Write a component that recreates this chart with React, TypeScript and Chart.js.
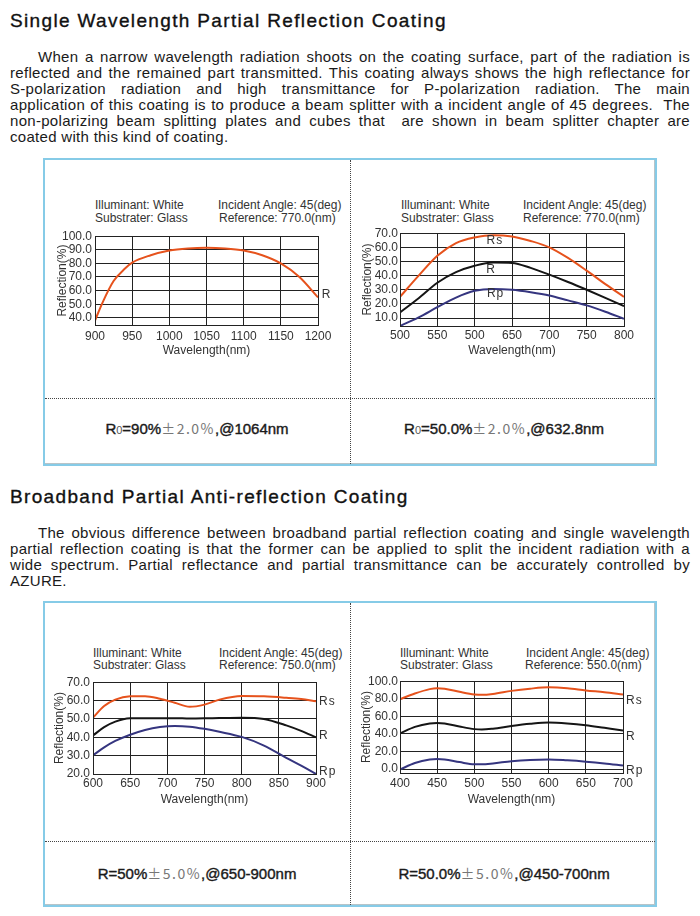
import React, { useEffect, useRef } from 'react';
import { Chart, registerables } from 'chart.js';
Chart.register(...registerables);

const FONT = '"Liberation Sans", Arial, sans-serif';
const CJK = '"Noto Sans CJK SC", "Liberation Sans", sans-serif';

// ---------- Chart 1: single wavelength 1064nm ----------
const wl1 = [900, 910, 925, 940, 950, 975, 1000, 1025, 1050, 1075, 1100, 1125, 1150, 1175, 1200];
const r1 = [38, 51, 67, 76, 80.5, 86, 89.5, 91, 91.5, 91, 89.5, 86, 80, 70, 55];
const xTicks1 = ['900', '950', '1000', '1050', '1100', '1150', '1200'];
const labels1 = [{ text: 'R', x: 1205, y: 56.7, align: 'left' }];

// ---------- Chart 2: single wavelength 632.8nm ----------
const wl2 = [500, 525, 550, 575, 600, 625, 650, 675, 700, 725, 750, 775, 800];
const rs2 = [25, 40, 54, 63, 67, 68.6, 67.7, 64.5, 60, 52.5, 43.5, 34, 25];
const r2 = [14, 24, 35, 42.5, 47, 49.3, 49, 45.5, 40.7, 35.5, 30, 24.3, 18.4];
const rp2 = [4.4, 10.5, 17.7, 24.5, 29.3, 30.6, 30, 28.3, 26, 22.5, 19, 14.5, 9.5];
const xTicks2 = ['500', '550', '500', '650', '700', '750', '800'];
const labels2 = [
  { text: 'Rs', x: 627, y: 64.4, align: 'center' },
  { text: 'R', x: 622, y: 44.2, align: 'center' },
  { text: 'Rp', x: 628, y: 27.3, align: 'center' },
];

// ---------- Chart 3: broadband 650-900nm ----------
const wl3 = [600, 615, 630, 650, 670, 690, 710, 730, 750, 770, 800, 830, 860, 880, 900];
const rs3 = [50.7, 57, 60.5, 62.3, 62.4, 61, 58.8, 56.6, 57.8, 60.5, 62.5, 62.3, 61.5, 60.8, 59.6];
const r3 = [41, 45.5, 48.5, 50.3, 50.4, 50.4, 50.4, 50.2, 50.3, 50.5, 50.7, 50, 46.5, 43.5, 40];
const rp3 = [30.2, 34.5, 38, 41.4, 44, 45.6, 46.2, 45.8, 44.6, 43, 40.2, 35.5, 28.8, 24.5, 20];
const xTicks3 = ['600', '650', '700', '750', '800', '850', '900'];
const labels3 = [
  { text: 'Rs', x: 904, y: 59.4, align: 'left' },
  { text: 'R', x: 904, y: 40.7, align: 'left' },
  { text: 'Rp', x: 904, y: 21.2, align: 'left' },
];

// ---------- Chart 4: broadband 450-700nm ----------
const wl4 = [400, 420, 440, 450, 460, 480, 500, 510, 525, 550, 575, 600, 625, 650, 675, 700];
const rs4 = [79.5, 86, 91, 92, 91.5, 88, 85, 84.5, 85.5, 89, 91.5, 93, 92, 89.5, 87.5, 85];
const r4 = [40.5, 48, 52, 52.5, 52, 48.5, 45.5, 45, 46, 49, 51.5, 53, 52, 50, 47, 44];
const rp4 = [-0.5, 7, 11, 11.5, 11, 8, 5.5, 5.5, 6.5, 9, 10.5, 11, 10, 8.5, 6.5, 4];
const xTicks4 = ['400', '450', '500', '550', '600', '650', '700'];
const labels4 = [
  { text: 'Rs', x: 704, y: 77.6, align: 'left' },
  { text: 'R', x: 704, y: 37.2, align: 'left' },
  { text: 'Rp', x: 704, y: -2, align: 'left' },
];

const ORANGE = '#e6521c';
const BLACK = '#151515';
const NAVY = '#35357f';

const para1 = [
  'When a narrow wavelength radiation shoots on the coating surface, part of the radiation is',
  'reflected and the remained part transmitted. This coating always shows the high reflectance for',
  'S-polarization radiation and high transmittance for P-polarization radiation. The main',
  'application of this coating is to produce a beam splitter with a incident angle of 45 degrees.\u00a0 The',
  'non-polarizing beam splitting plates and cubes that\u00a0 are shown in beam splitter chapter are',
  'coated with this kind of coating.',
];
const para2 = [
  'The obvious difference between broadband partial reflection coating and single wavelength',
  'partial reflection coating is that the former can be applied to split the incident radiation with a',
  'wide spectrum. Partial reflectance and partial transmittance can be accurately controlled by',
  'AZURE.',
];

const toXY = (xs: number[], ys: number[]) => xs.map((x, i) => ({ x, y: ys[i] }));

type Spec = {
  cx: number; cy: number; cw: number; ch: number;
  padTop: number; padRight: number; yW: number; xH: number;
  xPad: number; yPad: number;
  xMin: number; xMax: number; yMin: number; yMax: number; yStep: number;
  xTicks: string[];
  series: { data: { x: number; y: number }[]; color: string }[];
  labels: { text: string; x: number; y: number; align: string }[];
};

const specs: Spec[] = [
  {
    cx: 55, cy: 226, cw: 290, ch: 132, padTop: 8, padRight: 27, yW: 40, xH: 33, xPad: 4, yPad: 3,
    xMin: 900, xMax: 1200, yMin: 34.7, yMax: 100, yStep: 10, xTicks: xTicks1,
    series: [{ data: toXY(wl1, r1), color: ORANGE }], labels: labels1,
  },
  {
    cx: 360, cy: 224, cw: 290, ch: 134, padTop: 8, padRight: 26, yW: 40, xH: 32, xPad: 2, yPad: 2,
    xMin: 500, xMax: 800, yMin: 4.4, yMax: 70, yStep: 10, xTicks: xTicks2,
    series: [
      { data: toXY(wl2, rs2), color: ORANGE },
      { data: toXY(wl2, r2), color: BLACK },
      { data: toXY(wl2, rp2), color: NAVY },
    ], labels: labels2,
  },
  {
    cx: 52, cy: 672, cw: 293, ch: 135, padTop: 8, padRight: 29, yW: 41, xH: 33, xPad: 2, yPad: 3,
    xMin: 600, xMax: 900, yMin: 20, yMax: 70, yStep: 10, xTicks: xTicks3,
    series: [
      { data: toXY(wl3, rs3), color: ORANGE },
      { data: toXY(wl3, r3), color: BLACK },
      { data: toXY(wl3, rp3), color: NAVY },
    ], labels: labels3,
  },
  {
    cx: 359, cy: 672, cw: 291, ch: 135, padTop: 8, padRight: 27, yW: 41, xH: 34, xPad: 3, yPad: 2,
    xMin: 400, xMax: 700, yMin: -4.4, yMax: 100, yStep: 20, xTicks: xTicks4,
    series: [
      { data: toXY(wl4, rs4), color: ORANGE },
      { data: toXY(wl4, r4), color: BLACK },
      { data: toXY(wl4, rp4), color: NAVY },
    ], labels: labels4,
  },
];

const seriesLabelPlugin = {
  id: 'seriesLabels',
  afterDatasetsDraw(chart: any, _args: any, opts: any) {
    const { ctx, scales } = chart;
    ctx.save();
    ctx.font = `12px ${FONT}`;
    ctx.fillStyle = '#333';
    ctx.textBaseline = 'middle';
    try { (ctx as any).letterSpacing = '1px'; } catch (e) { /* ignore */ }
    for (const it of opts.items || []) {
      ctx.textAlign = it.align;
      ctx.fillText(it.text, scales.x.getPixelForValue(it.x), scales.y.getPixelForValue(it.y));
    }
    ctx.restore();
  },
};

const framePlugin = {
  id: 'frame',
  afterDraw(chart: any) {
    const { ctx, chartArea: a } = chart;
    ctx.save();
    ctx.strokeStyle = '#222';
    ctx.lineWidth = 1;
    ctx.strokeRect(Math.round(a.left) + 0.5, Math.round(a.top) + 0.5, Math.round(a.right - a.left), Math.round(a.bottom - a.top));
    ctx.restore();
  },
};

function LineChart({ spec }: { spec: Spec }) {
  const ref = useRef<HTMLCanvasElement>(null);
  useEffect(() => {
    const s = spec;
    const tickFont = { family: FONT, size: 12 };
    const chart = new Chart(ref.current as HTMLCanvasElement, {
      type: 'line',
      data: {
        datasets: s.series.map((d) => ({
          data: d.data,
          borderColor: d.color,
          backgroundColor: d.color,
          borderWidth: 2,
          pointRadius: 0,
          fill: false,
          cubicInterpolationMode: 'monotone' as const,
        })),
      },
      options: {
        responsive: false,
        maintainAspectRatio: false,
        animation: false,
        events: [],
        layout: { padding: { top: s.padTop, right: s.padRight, left: 0, bottom: 0 } },
        plugins: {
          legend: { display: false },
          tooltip: { enabled: false },
          seriesLabels: { items: s.labels },
        } as any,
        scales: {
          x: {
            type: 'linear',
            min: s.xMin,
            max: s.xMax,
            afterFit: (sc: any) => { sc.height = s.xH; },
            grid: { color: '#222', lineWidth: 1, drawTicks: false },
            border: { color: '#222', width: 1 },
            ticks: {
              stepSize: 50,
              padding: s.xPad,
              color: '#333',
              font: tickFont,
              maxRotation: 0,
              autoSkip: false,
              callback: (_v: any, i: number) => s.xTicks[i],
            },
            title: { display: true, text: 'Wavelength(nm)', color: '#333', font: tickFont, padding: 0 },
          },
          y: {
            type: 'linear',
            min: s.yMin,
            max: s.yMax,
            afterFit: (sc: any) => { sc.width = s.yW; },
            grid: { color: '#222', lineWidth: 1, drawTicks: false },
            border: { color: '#222', width: 1 },
            ticks: {
              stepSize: s.yStep,
              includeBounds: false,
              autoSkip: false,
              padding: s.yPad,
              color: '#333',
              font: tickFont,
              callback: (v: any) => Number(v).toFixed(1),
            },
            title: { display: true, text: 'Reflection(%)', color: '#333', font: tickFont, padding: 0 },
          },
        },
      } as any,
      plugins: [seriesLabelPlugin, framePlugin],
    });
    return () => chart.destroy();
  }, [spec]);
  return (
    <canvas
      ref={ref}
      width={spec.cw}
      height={spec.ch}
      style={{ position: 'absolute', left: spec.cx, top: spec.cy, width: spec.cw, height: spec.ch }}
    />
  );
}

const abs = (left: number, top: number, extra: React.CSSProperties = {}): React.CSSProperties => ({
  position: 'absolute', left, top, ...extra,
});

function Note({ x, y, text }: { x: number; y: number; text: string }) {
  return (
    <div style={abs(x, y - 7, { fontSize: 12, lineHeight: '14px', color: '#333', whiteSpace: 'nowrap' })}>{text}</div>
  );
}

function Title({ y, text }: { y: number; text: string }) {
  return (
    <div style={abs(10, y - 12, {
      fontSize: 19, lineHeight: '24px', letterSpacing: '1.35px', color: '#111', whiteSpace: 'nowrap',
      WebkitTextStroke: '0.35px #111',
    } as React.CSSProperties)}>
      {text}
    </div>
  );
}

function Para({ y0, lines }: { y0: number; lines: string[] }) {
  return (
    <>
      {lines.map((l, i) => {
        const last = i === lines.length - 1;
        return (
          <div
            key={i}
            style={abs(10, y0 + i * 16 - 8, {
              width: 680,
              height: 16,
              fontSize: 15,
              lineHeight: '16px',
              letterSpacing: '0.3px',
              color: '#1a1a1a',
              textAlign: last ? 'left' : 'justify',
              textAlignLast: last ? 'left' : 'justify',
              textIndent: i === 0 ? 28 : 0,
            } as React.CSSProperties)}
          >
            {l}
          </div>
        );
      })}
    </>
  );
}

function Box({ top, height, split }: { top: number; height: number; split: number }) {
  return (
    <>
      <div style={abs(43, top, { width: 610, height: height - 4, border: '2px solid #86cbe7', boxShadow: 'inset -1px -1px 0 #b8c4c8' })} />
      <div style={abs(350, top + 2, { width: 0, height: height - 4, borderLeft: '1px dotted #444' })} />
      <div style={abs(45, split, { width: 610, height: 0, borderTop: '1px dotted #444' })} />
    </>
  );
}

function Caption({ cx, y, head, sub, mid, tol, tail }: { cx: number; y: number; head: string; sub?: string; mid: string; tol: string; tail: string }) {
  return (
    <div style={abs(cx - 150, y - 10, {
      width: 300, textAlign: 'center', fontSize: 15, lineHeight: '20px', color: '#1a1a1a', whiteSpace: 'nowrap',
      WebkitTextStroke: '0.4px #1a1a1a',
    } as React.CSSProperties)}>
      {head}
      {sub ? <span style={{ fontSize: 11, color: '#555', WebkitTextStroke: '0px' } as React.CSSProperties}>{sub}</span> : null}
      {mid}
      <span style={{ fontFamily: CJK, fontSize: 14, color: '#777', letterSpacing: '1.5px', WebkitTextStroke: '0px' } as React.CSSProperties}>{tol}</span>
      {tail}
    </div>
  );
}

export default function App() {
  return (
    <div style={{ position: 'absolute', left: 0, top: 0, width: 700, height: 916, background: '#fff', fontFamily: FONT, overflow: 'hidden' }}>
      <Title y={21} text="Single Wavelength Partial Reflection Coating" />
      <Para y0={57} lines={para1} />

      <Box top={158} height={308} split={398} />
      <Note x={95} y={205} text="Illuminant: White" />
      <Note x={95} y={218} text="Substrater: Glass" />
      <Note x={218} y={205} text="Incident Angle: 45(deg)" />
      <Note x={219} y={218} text="Reference: 770.0(nm)" />
      <Note x={401} y={205} text="Illuminant: White" />
      <Note x={401} y={218} text="Substrater: Glass" />
      <Note x={523} y={205} text="Incident Angle: 45(deg)" />
      <Note x={523} y={218} text="Reference: 770.0(nm)" />
      <LineChart spec={specs[0]} />
      <LineChart spec={specs[1]} />
      <Caption cx={197} y={428} head="R" sub="0" mid="=90%" tol="±2.0%" tail=",@1064nm" />
      <Caption cx={504} y={428} head="R" sub="0" mid="=50.0%" tol="±2.0%" tail=",@632.8nm" />

      <Title y={497} text="Broadband Partial Anti-reflection Coating" />
      <Para y0={533} lines={para2} />

      <Box top={601} height={306} split={841} />
      <Note x={93} y={653} text="Illuminant: White" />
      <Note x={93} y={665} text="Substrater: Glass" />
      <Note x={219} y={653} text="Incident Angle: 45(deg)" />
      <Note x={219} y={665} text="Reference: 750.0(nm)" />
      <Note x={400} y={653} text="Illuminant: White" />
      <Note x={400} y={665} text="Substrater: Glass" />
      <Note x={526} y={653} text="Incident Angle: 45(deg)" />
      <Note x={525} y={665} text="Reference: 550.0(nm)" />
      <LineChart spec={specs[2]} />
      <LineChart spec={specs[3]} />
      <Caption cx={197} y={873} head="R" mid="=50%" tol="±5.0%" tail=",@650-900nm" />
      <Caption cx={504} y={873} head="R" mid="=50.0%" tol="±5.0%" tail=",@450-700nm" />
    </div>
  );
}
